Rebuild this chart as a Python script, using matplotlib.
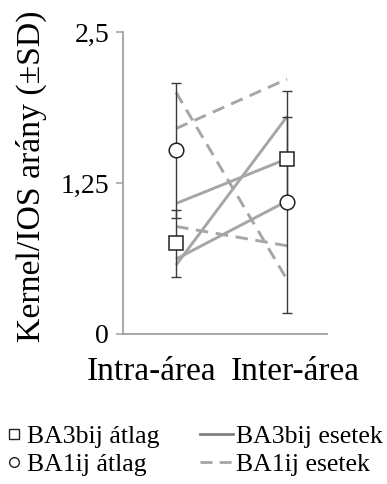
import numpy as np
import matplotlib
matplotlib.use("Agg")
import matplotlib.pyplot as plt
from matplotlib.lines import Line2D
from matplotlib.transforms import ScaledTranslation

plt.rcParams['font.family'] = ['Liberation Serif', 'DejaVu Serif']

groups = ['Intra-área', 'Inter-área']
# individual cases (intra, inter)
ba3_cases = [[1.08, 1.45], [0.62, 1.10], [0.57, 1.80]]
ba1_cases = [[1.70, 2.11], [2.00, 0.45], [0.89, 0.73]]
# group means and SD
ba3_mean = [0.75, 1.45]
ba3_sd = [0.28, 0.35]
ba1_mean = [1.52, 1.09]
ba1_sd = [0.56, 0.92]
yticks = [0, 1.25, 2.5]
yticklabels = ['0', '1,25', '2,5']

case_col = '#a6a6a6'
bar_col = '#3a3a3a'
axis_col = '#a0a0a0'
dash = (0, (4.3, 2.6))

fig = plt.figure(figsize=(3.87, 4.84), dpi=100)
ax = fig.add_axes([0.318, 0.310, 0.527, 0.624])
x = np.arange(len(groups))

for c in ba3_cases:
    ax.plot(x, c, color=case_col, lw=2.1, solid_capstyle='butt', zorder=2)
for c in ba1_cases:
    ax.plot(x, c, color=case_col, lw=2.1, ls=dash, zorder=2)

ax.errorbar(x, ba3_mean, yerr=ba3_sd, fmt='none', ecolor=bar_col, elinewidth=1.0,
            capsize=3.3, capthick=1.0, zorder=3)
ax.errorbar(x, ba1_mean, yerr=ba1_sd, fmt='none', ecolor=bar_col, elinewidth=1.0,
            capsize=3.3, capthick=1.0, zorder=3)
ax.plot(x, ba3_mean, ls='none', marker='s', ms=10.5, mfc='white', mec='#222222',
        mew=1.1, zorder=4)
ax.plot(x, ba1_mean, ls='none', marker='o', ms=10.5, mfc='white', mec='#222222',
        mew=1.1, zorder=4)

ax.set_xlim(-0.477, 1.36)
ax.set_ylim(0, 2.5)
ax.set_yticks(yticks)
ax.set_yticklabels(yticklabels, fontsize=20)
ax.set_xticks(x)
ax.set_xticklabels(groups, fontsize=24)
ax.tick_params(axis='x', length=0, pad=16)
ax.tick_params(axis='y', length=5, width=1.1, color=axis_col, pad=5)
for s in ['top', 'right']:
    ax.spines[s].set_visible(False)
for s in ['left', 'bottom']:
    ax.spines[s].set_color(axis_col)
    ax.spines[s].set_linewidth(1.3)

# shift the category labels so they do not overlap
shifts = [-0.24, 0.08]
for lab, dx in zip(ax.get_xticklabels(), shifts):
    lab.set_transform(lab.get_transform() + ScaledTranslation(dx, 0, fig.dpi_scale_trans))

ax.set_ylabel('Kernel/IOS arány (±SD)', fontsize=24.3)
ax.yaxis.set_label_coords(-0.373, 0.523)

leg_kw = dict(loc='upper left', frameon=False, fontsize=18.5, handletextpad=0.1,
              labelspacing=0.2, borderpad=0, borderaxespad=0)
mean_handles = [
    Line2D([], [], ls='none', marker='s', ms=7, mfc='white', mec='#222222', mew=1.0),
    Line2D([], [], ls='none', marker='o', ms=7, mfc='white', mec='#222222', mew=1.0),
]
case_handles = [
    Line2D([], [], color='#808080', lw=2.0),
    Line2D([], [], color=case_col, lw=2.0, ls=dash),
]
leg1 = fig.legend(mean_handles, ['BA3bij átlag', 'BA1ij átlag'],
                  bbox_to_anchor=(0.009, 0.122), handlelength=0.8, **leg_kw)
fig.legend(case_handles, ['BA3bij esetek', 'BA1ij esetek'],
           bbox_to_anchor=(0.517, 0.122), handlelength=1.3, **leg_kw)

fig.savefig('out.png', dpi=100)
